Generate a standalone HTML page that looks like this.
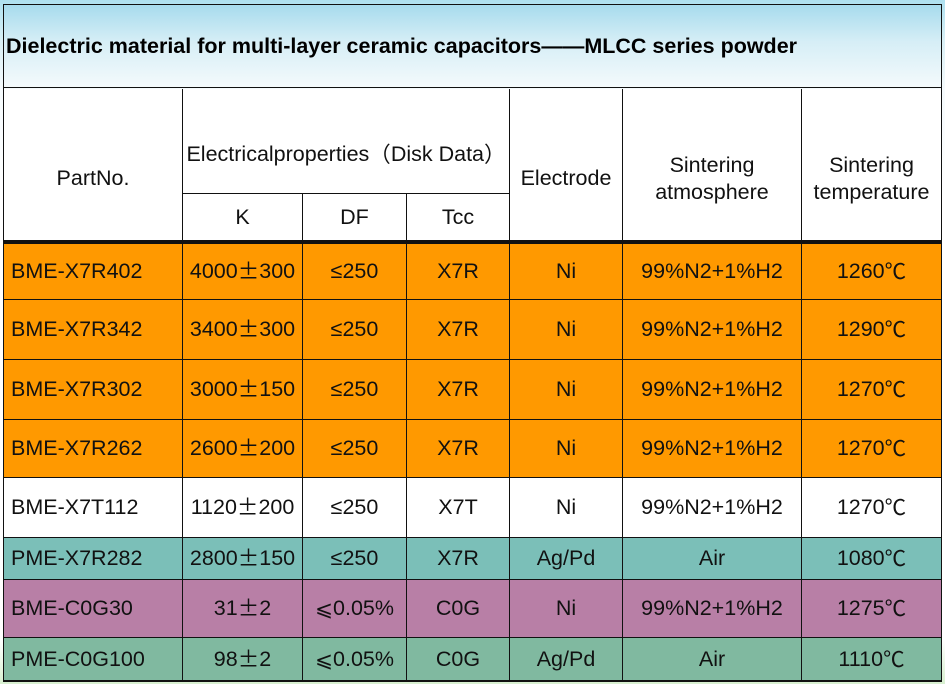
<!DOCTYPE html>
<html><head><meta charset="utf-8"><style>
*{margin:0;padding:0;box-sizing:border-box}
body{width:945px;height:684px;overflow:hidden;background:linear-gradient(#aee0ef 0px,#d9f0f6 40px,#f6fbfd 90px,#fff 200px,#fff 640px,#d8f0d0 684px);font-family:"Liberation Sans","Noto Sans CJK SC",sans-serif;position:relative}
.c{position:absolute;display:flex;align-items:center;justify-content:center;text-align:center;font-size:21.5px;color:#111;border-right:1px solid #111;border-bottom:1px solid #111;line-height:1.22}
.l{justify-content:flex-start;padding-left:7px}
.j{font-family:"Noto Sans CJK SC",sans-serif}
#frame{position:absolute;left:3px;top:4px;width:939px;height:678px;border:1px solid #111}
#title{position:absolute;left:4px;top:5px;width:937px;height:83px;border-bottom:1px solid #111;font-weight:bold;font-size:21.5px;display:flex;align-items:center;padding-left:2px;background:linear-gradient(#a7dbed,#d6eef6 45%,#f4fafc)}
.o{background:#ff9900}.t{background:#7bbfb8}.p{background:#b87fa6}.g{background:#80b9a0}.w{background:#fff}
.hd{padding-top:28px}
</style></head><body>
<div id="title">Dielectric material for multi-layer ceramic capacitors——MLCC series powder</div>
<div id="frame"></div>
<div class="c w hd" style="left:4px;top:89px;width:179px;height:155px;border-bottom:4px solid #111">PartNo.</div>
<div class="c w" style="left:183px;top:89px;width:327px;height:105px;padding-top:26px">Electricalproperties<span class="j">（</span>Disk Data<span class="j">）</span></div>
<div class="c w" style="left:183px;top:194px;width:120px;height:50px;border-bottom:4px solid #111">K</div>
<div class="c w" style="left:303px;top:194px;width:104px;height:50px;border-bottom:4px solid #111">DF</div>
<div class="c w" style="left:407px;top:194px;width:103px;height:50px;border-bottom:4px solid #111">Tcc</div>
<div class="c w hd" style="left:510px;top:89px;width:113px;height:155px;border-bottom:4px solid #111">Electrode</div>
<div class="c w hd" style="left:623px;top:89px;width:179px;height:155px;border-bottom:4px solid #111">Sintering<br>atmosphere</div>
<div class="c w hd" style="left:802px;top:89px;width:139px;height:155px;border-bottom:4px solid #111;border-right:none">Sintering<br>temperature</div>
<div id="rows"></div>
<script>
var P='<span class="j">±</span>',C='<span class="j">℃</span>',L='<span class="j">⩽</span>';
var rows=[
["o",244,300,"BME-X7R402","4000"+P+"300","≤250","X7R","Ni","99%N2+1%H2","1260"+C],
["o",300,360,"BME-X7R342","3400"+P+"300","≤250","X7R","Ni","99%N2+1%H2","1290"+C],
["o",360,420,"BME-X7R302","3000"+P+"150","≤250","X7R","Ni","99%N2+1%H2","1270"+C],
["o",420,478,"BME-X7R262","2600"+P+"200","≤250","X7R","Ni","99%N2+1%H2","1270"+C],
["w",478,538,"BME-X7T112","1120"+P+"200","≤250","X7T","Ni","99%N2+1%H2","1270"+C],
["t",538,580,"PME-X7R282","2800"+P+"150","≤250","X7R","Ag/Pd","Air","1080"+C],
["p",580,638,"BME-C0G30","31"+P+"2",L+"0.05%","C0G","Ni","99%N2+1%H2","1275"+C],
["g",638,681,"PME-C0G100","98"+P+"2",L+"0.05%","C0G","Ag/Pd","Air","1110"+C]];
var xs=[4,183,303,407,510,623,802,941],h="";
rows.forEach(function(r){for(var i=0;i<7;i++){h+='<div class="c '+r[0]+(i==0?' l':'')+'" style="left:'+xs[i]+'px;top:'+r[1]+'px;width:'+(xs[i+1]-xs[i])+'px;height:'+(r[2]-r[1])+'px;'+(i==6?'border-right:none':'')+'">'+r[3+i]+'</div>';}});
document.getElementById('rows').innerHTML=h;
</script>
</body></html>
